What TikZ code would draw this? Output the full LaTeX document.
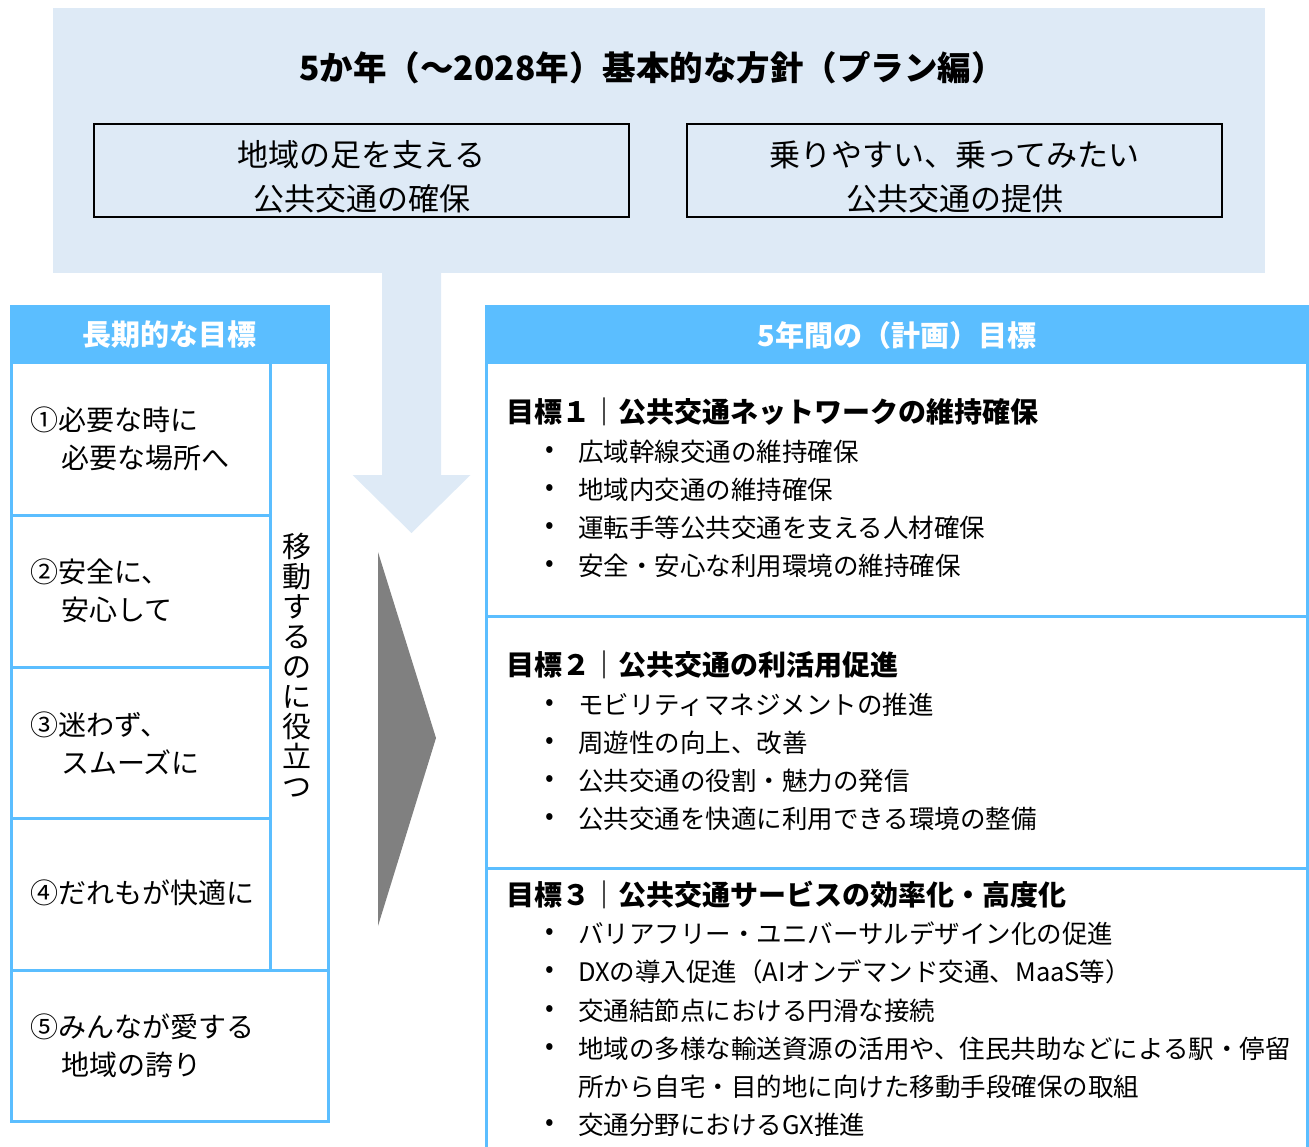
\documentclass[tikz,border=0pt]{standalone}
\usepackage{fontspec}
\setmainfont{Noto Sans CJK JP}
\definecolor{topbg}{RGB}{222,234,246}
\definecolor{sky}{RGB}{91,190,255}
\definecolor{chev}{RGB}{128,128,128}
\newcommand\myitem[3]{%
  \node[bultxt,anchor=center] (#1dot) at (550,#2) {•};
  \node[bultxt] (#1) at (578,#2) {#3};}
\begin{document}
\begin{tikzpicture}[x=1pt,y=-1pt,
  tbl/.style={draw=sky,line width=3pt},
  pbox/.style={draw=black,line width=2pt,minimum width=535pt,minimum height=93pt,align=center,inner sep=0pt,
    font=\fontsize{31}{44}\selectfont},
  hdrtxt/.style={text=white,inner sep=0pt,font=\fontsize{29}{32}\selectfont\bfseries},
  rowtxt/.style={anchor=west,align=left,inner sep=0pt,font=\fontsize{28}{38}\selectfont},
  goalhd/.style={anchor=west,inner sep=0pt,font=\fontsize{28}{30}\selectfont\bfseries},
  bultxt/.style={anchor=west,inner sep=0pt,font=\fontsize{25.5}{30}\selectfont}]
\useasboundingbox (0,0) rectangle (1309,1147);
% top panel
\fill[topbg] (53,8) rectangle (1265,273);
\fill[topbg] (382,270) -- (441,270) -- (441,475) -- (470.5,475) -- (411.5,533) -- (352.5,475) -- (382,475) -- cycle;
\node[inner sep=0pt,font=\fontsize{33.5}{36}\selectfont\bfseries] (title) at (652,68) {5か年（～2028年）基本的な方針（プラン編）};
\node[draw=black,line width=2pt,minimum width=535pt,minimum height=93pt] (p1) at (361.5,170.5) {};
\node[draw=black,line width=2pt,minimum width=535pt,minimum height=93pt] (p2) at (954.5,170.5) {};
\node[align=center,inner sep=0pt,font=\fontsize{31}{44}\selectfont] (p1t) at (361.5,177) {地域の足を支える\\公共交通の確保};
\node[align=center,inner sep=0pt,font=\fontsize{31}{44}\selectfont] (p2t) at (954.5,177) {乗りやすい、乗ってみたい\\公共交通の提供};
% chevron
\fill[chev] (378,552) -- (436,738) -- (378,926) -- cycle;
% left table
\fill[sky] (11,307) rectangle (328,363);
\draw[tbl] (11,307) rectangle (328,363);
\draw[tbl] (11,363) rectangle (328,1121);
\foreach \yy in {515,667,818} \draw[tbl] (11,\yy) -- (270,\yy);
\draw[tbl] (11,970) -- (328,970);
\draw[tbl] (270,363) -- (270,970);
\node[hdrtxt] (lhead) at (169.5,335) {長期的な目標};
\node[rowtxt] (r1) at (30,439) {①必要な時に\\\hspace*{31pt}必要な場所へ};
\node[rowtxt] (r2) at (30,591) {②安全に、\\\hspace*{31pt}安心して};
\node[rowtxt] (r3) at (30,743) {③迷わず、\\\hspace*{31pt}スムーズに};
\node[rowtxt] (r4) at (30,893) {④だれもが快適に};
\node[rowtxt] (r5) at (30,1046) {⑤みんなが愛する\\\hspace*{31pt}地域の誇り};
\node[inner sep=0pt,align=center,font=\fontsize{29}{30}\selectfont] (vt) at (297,665) {移\\動\\す\\る\\の\\に\\役\\立\\つ};
% right table
\fill[sky] (486,307) rectangle (1307,363);
\draw[tbl] (486,307) rectangle (1307,363);
\draw[tbl] (486,363) -- (486,1160);
\draw[tbl] (1307,363) -- (1307,1160);
\draw[tbl] (486,616) -- (1307,616);
\draw[tbl] (486,868) -- (1307,868);
\node[hdrtxt] (rhead) at (897,335) {5年間の（計画）目標};
\node[goalhd] (g1) at (506,412) {目標１｜公共交通ネットワークの維持確保};
\myitem{a1}{452}{広域幹線交通の維持確保}
\myitem{a2}{490}{地域内交通の維持確保}
\myitem{a3}{528}{運転手等公共交通を支える人材確保}
\myitem{a4}{566}{安全・安心な利用環境の維持確保}
\node[goalhd] (g2) at (506,665) {目標２｜公共交通の利活用促進};
\myitem{b1}{705}{モビリティマネジメントの推進}
\myitem{b2}{743}{周遊性の向上、改善}
\myitem{b3}{781}{公共交通の役割・魅力の発信}
\myitem{b4}{819}{公共交通を快適に利用できる環境の整備}
\node[goalhd] (g3) at (506,895) {目標３｜公共交通サービスの効率化・高度化};
\myitem{c1}{934}{バリアフリー・ユニバーサルデザイン化の促進}
\myitem{c2}{972}{DXの導入促進（AIオンデマンド交通、MaaS等）}
\myitem{c3}{1011}{交通結節点における円滑な接続}
\myitem{c4}{1049}{地域の多様な輸送資源の活用や、住民共助などによる駅・停留}
\node[bultxt] (c4b) at (578,1087) {所から自宅・目的地に向けた移動手段確保の取組};
\myitem{c5}{1125}{交通分野におけるGX推進}
\end{tikzpicture}
\end{document}
